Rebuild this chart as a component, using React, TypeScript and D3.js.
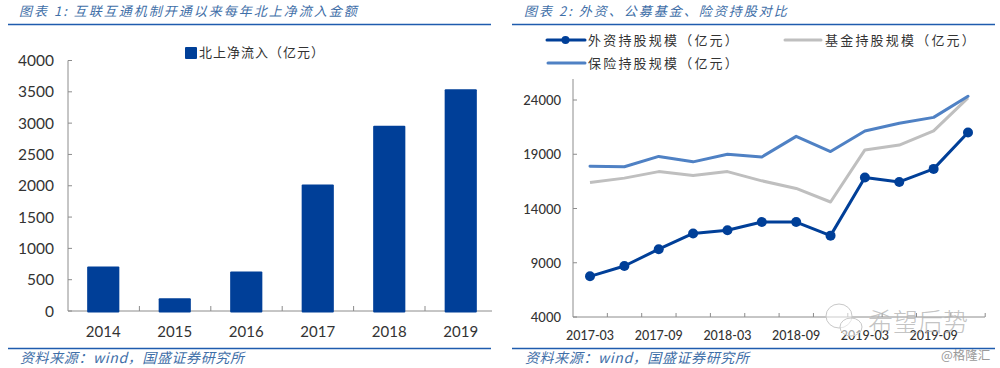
import React from "react";
import * as d3 from "d3";

const years = ["2014", "2015", "2016", "2017", "2018", "2019"];
const inflow = [710, 205, 630, 2020, 2960, 3540];
const barTicks = [0, 500, 1000, 1500, 2000, 2500, 3000, 3500, 4000];

const quarters = ["2017-03","2017-06","2017-09","2017-12","2018-03","2018-06","2018-09","2018-12","2019-03","2019-06","2019-09","2019-12"];
const foreign = [7750, 8700, 10250, 11700, 12000, 12750, 12750, 11500, 16850, 16450, 17650, 21000];
const fund = [16400, 16800, 17400, 17050, 17400, 16550, 15850, 14600, 19400, 19850, 21150, 24200];
const insurance = [17900, 17850, 18800, 18300, 19000, 18750, 20650, 19250, 21150, 21850, 22400, 24350];
const lineTicks = [4000, 9000, 14000, 19000, 24000];
const lineLabels = ["2017-03", "2017-09", "2018-03", "2018-09", "2019-03", "2019-09"];

const DARK = "#003f98";
const GRAY = "#bfbfbf";
const LIGHT = "#4f81c4";
const TITLE = "#3f6fa8";
const RULE = "#1f5cae";
const AXIS = "#8c8c8c";
const TEXT = "#333333";
const CJK = "'Noto Sans CJK SC', sans-serif";
const NUM = "Lato, 'Open Sans', sans-serif";

const barX = d3.scaleBand<string>().domain(years).range([67.5, 496.5]).paddingInner(0.55).paddingOuter(0.275);
const barY = d3.scaleLinear().domain([0, 4000]).range([311, 60.5]);
const lineX = d3.scalePoint<string>().domain(quarters).range([590, 968]);
const lineY = d3.scaleLinear().domain([4000, 24000]).range([317, 100]);
const mk = d3.line<number>().x((_, i) => lineX(quarters[i])!).y((d) => lineY(d));

const Header = ({ x, text, x1, x2 }: { x: number; text: string; x1: number; x2: number }) => (
  <g>
    <text x={x} y={15.5} fontSize={13} fontStyle="italic" fill={TITLE} fontFamily={CJK} letterSpacing={2}>{text}</text>
    <line x1={x1} x2={x2} y1={24.5} y2={24.5} stroke={RULE} strokeWidth={1.6} />
    <line x1={x1} x2={x2} y1={348.5} y2={348.5} stroke={RULE} strokeWidth={1.4} />
    <text x={x + 1} y={363} fontSize={14} fontStyle="italic" fill={TITLE} fontFamily={CJK} letterSpacing={0.6}>资料来源：wind，国盛证券研究所</text>
  </g>
);

export default function App() {
  const bw = barX.bandwidth();
  const xStep = 34.35;
  return (
    <svg width={1000} height={368} style={{ position: "absolute", left: 0, top: 0, background: "#fff" }}>
      <Header x={19} text="图表 1:  互联互通机制开通以来每年北上净流入金额" x1={8} x2={491} />
      <Header x={524} text="图表 2:  外资、公募基金、险资持股对比" x1={512} x2={995} />

      {/* bar legend */}
      <rect x={185} y={47} width={12} height={12} rx={1} fill={DARK} />
      <text x={199} y={57} fontSize={13} fill={TEXT} fontFamily={CJK} letterSpacing={1}>北上净流入（亿元）</text>

      {/* bar chart */}
      <path d={`M68,${barY(4000)}V${barY(0)}H492`} fill="none" stroke={AXIS} strokeWidth={1} />
      {barTicks.map((t) => (
        <g key={t}>
          <line x1={68} x2={72} y1={barY(t)} y2={barY(t)} stroke={AXIS} />
          <text x={54} y={barY(t) + 5.5} textAnchor="end" fontSize={15.5} fill={TEXT} fontFamily={NUM}>{t}</text>
        </g>
      ))}
      {years.map((y, i) => (
        <g key={y}>
          {i > 0 && <line x1={68 + i * 71.4} x2={68 + i * 71.4} y1={306} y2={311} stroke={AXIS} />}
          <text x={barX(y)! + bw / 2} y={337} textAnchor="middle" fontSize={15} fill={TEXT} fontFamily={NUM}>{y}</text>
        </g>
      ))}
      {years.map((y, i) => (
        <rect key={y} x={barX(y)!} y={barY(inflow[i])} width={bw} height={barY(0) - barY(inflow[i]) + 1.5} rx={1} fill={DARK} />
      ))}

      {/* line legend */}
      <line x1={547} x2={585} y1={40} y2={40} stroke={DARK} strokeWidth={3} strokeLinecap="round" />
      <circle cx={565.5} cy={40} r={4} fill={DARK} />
      <text x={588} y={45} fontSize={13} fill={TEXT} fontFamily={CJK} letterSpacing={2.2}>外资持股规模（亿元）</text>
      <line x1={785} x2={821} y1={40} y2={40} stroke={GRAY} strokeWidth={3} strokeLinecap="round" />
      <text x={825} y={45} fontSize={13} fill={TEXT} fontFamily={CJK} letterSpacing={2.2}>基金持股规模（亿元）</text>
      <line x1={548} x2={585} y1={63} y2={63} stroke={LIGHT} strokeWidth={3} strokeLinecap="round" />
      <text x={588} y={68} fontSize={13} fill={TEXT} fontFamily={CJK} letterSpacing={2.2}>保险持股规模（亿元）</text>

      {/* line chart */}
      <path d={`M573,79V317H985`} fill="none" stroke={AXIS} strokeWidth={1} />
      {lineTicks.map((t) => (
        <g key={t}>
          <line x1={573} x2={577} y1={lineY(t)} y2={lineY(t)} stroke={AXIS} />
          <text x={561} y={lineY(t) + 5} textAnchor="end" fontSize={13} fontWeight={500} fill={TEXT} fontFamily={NUM}>{t}</text>
        </g>
      ))}
      {quarters.map((_, i) => (
        <line key={i} x1={573 + (i + 1) * xStep} x2={573 + (i + 1) * xStep} y1={313} y2={317} stroke={AXIS} />
      ))}
      {lineLabels.map((l) => (
        <text key={l} x={lineX(l)} y={340} textAnchor="middle" fontSize={12.5} fontWeight={500} fill={TEXT} fontFamily={NUM}>{l}</text>
      ))}
      <path d={mk(fund)!} fill="none" stroke={GRAY} strokeWidth={3} strokeLinejoin="round" />
      <path d={mk(insurance)!} fill="none" stroke={LIGHT} strokeWidth={3} strokeLinejoin="round" strokeLinecap="round" />
      <path d={mk(foreign)!} fill="none" stroke={DARK} strokeWidth={3} strokeLinejoin="round" />
      {foreign.map((v, i) => (
        <circle key={i} cx={lineX(quarters[i])} cy={lineY(v)} r={5} fill={DARK} />
      ))}

      {/* watermark */}
      <g fill="#ffffff" fillOpacity={0.55} stroke="#c8c8c8" strokeWidth={1}>
        <ellipse cx={839} cy={316} rx={13} ry={12} />
        <ellipse cx={851} cy={327} rx={11} ry={9} />
      </g>
      <text x={868} y={331} fontSize={25} fill="#b4b4b4" fillOpacity={0.8} fontFamily={CJK} fontWeight={300}>希望后势</text>
      <text x={941} y={360} fontSize={12.5} fill="#9a9a9a" fontFamily={CJK}>@格隆汇</text>
    </svg>
  );
}
